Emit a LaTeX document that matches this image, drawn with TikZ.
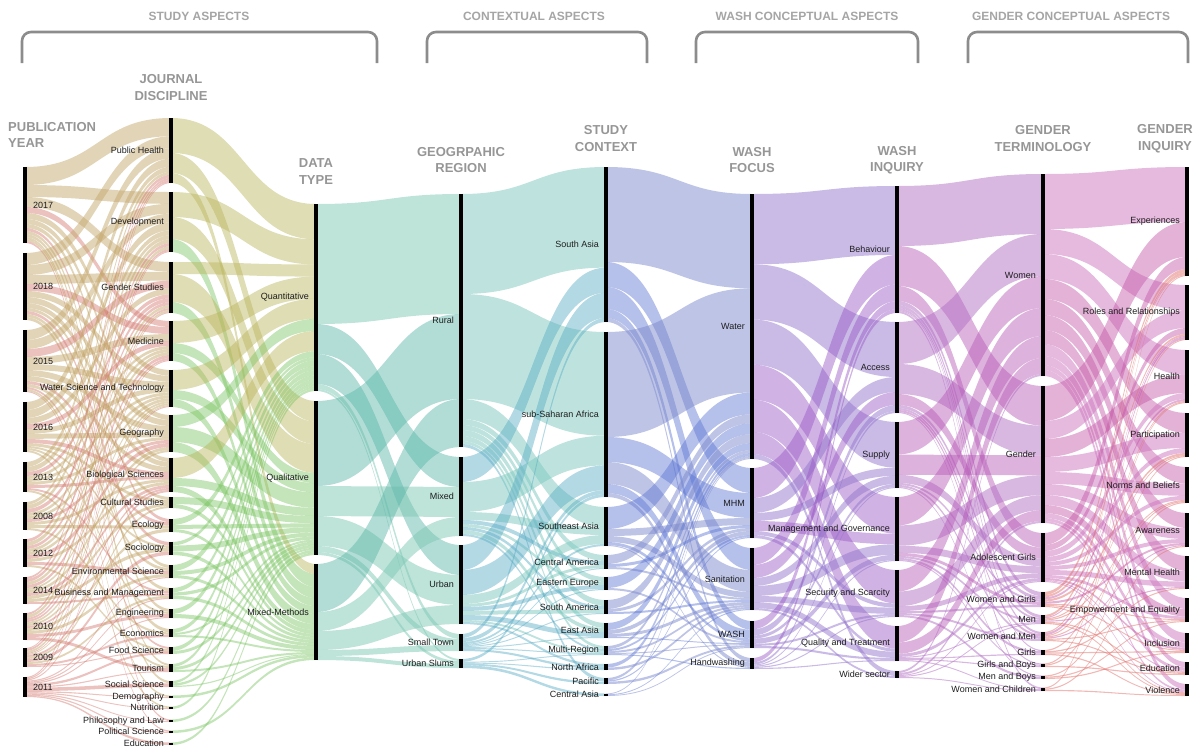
\documentclass[tikz,border=0pt]{standalone}
\usepackage{fontspec}
\setmainfont{Liberation Sans}

% ---------- colours ----------
\definecolor{labelink}{RGB}{30,30,30}
\definecolor{headgray}{RGB}{150,150,150}
\definecolor{grouphead}{RGB}{165,165,165}
\definecolor{bracketgray}{RGB}{140,140,140}
\definecolor{pAa}{RGB}{195,165,105}\definecolor{pAb}{RGB}{210,120,110}
\definecolor{pBa}{RGB}{185,180,90}\definecolor{pBb}{RGB}{120,195,95}
\definecolor{pCa}{RGB}{125,200,180}\definecolor{pCb}{RGB}{85,180,165}
\definecolor{pDa}{RGB}{125,200,190}\definecolor{pDb}{RGB}{85,170,195}
\definecolor{pEa}{RGB}{125,138,205}\definecolor{pEb}{RGB}{90,115,210}
\definecolor{pFa}{RGB}{148,118,205}\definecolor{pFb}{RGB}{150,85,195}
\definecolor{pGa}{RGB}{178,112,196}\definecolor{pGb}{RGB}{180,85,180}
\definecolor{pHa}{RGB}{205,118,190}\definecolor{pHb}{RGB}{195,85,165}\definecolor{pHc}{RGB}{225,115,110}

% ---------- segment storage ----------
\newcommand\storeseg[4]{%
  \expandafter\xdef\csname sg-#1-#2-t\endcsname{#3}%
  \expandafter\xdef\csname sg-#1-#2-b\endcsname{#4}}
\newcommand\segtop[2]{\csname sg-#1-#2-t\endcsname}
\newcommand\segbot[2]{\csname sg-#1-#2-b\endcsname}
\newcommand\loadaxis[2]{%
  \foreach \segT/\segB/\segL [count=\nn] in #2 {\storeseg{#1}{\nn}{\segT}{\segB}}}

% ---------- bars and labels of one axis ----------
\newcommand\drawaxis[5]{% list, bar x, label x, label anchor, node prefix
  \foreach \segT/\segB/\segL [count=\nn] in #1 {%
    \pgfmathsetmacro\ym{(\segT+\segB)/2}%
    \fill[bar] (#2-2.4,\segT) rectangle (#2+2.4,\segB);
    \node[seglabel, anchor=#4] (#5\nn) at (#3,\ym) {\segL};
  }}

% ---------- alluvial bands between two axes ----------
\newcommand\drawflows[6]{% left axis, right axis, left x, right x, style prefix, flow list
  \foreach \qi/\qj/\qw/\qc in #6 {%
    \expandafter\xdef\csname sumL-\qi\endcsname{0}%
    \expandafter\xdef\csname sumR-\qj\endcsname{0}%
    \expandafter\xdef\csname posL-\qi\endcsname{\segtop{#1}{\qi}}%
    \expandafter\xdef\csname posR-\qj\endcsname{\segtop{#2}{\qj}}%
  }%
  \foreach \qi/\qj/\qw/\qc in #6 {%
    \edef\Ls{\csname sumL-\qi\endcsname}\edef\Rs{\csname sumR-\qj\endcsname}%
    \pgfmathsetmacro\tmp{\Ls+\qw}%
    \expandafter\xdef\csname sumL-\qi\endcsname{\tmp}%
    \pgfmathsetmacro\tmp{\Rs+\qw}%
    \expandafter\xdef\csname sumR-\qj\endcsname{\tmp}%
  }%
  \foreach \qi/\qj/\qw/\qc in #6 {%
    \edef\Lt{\segtop{#1}{\qi}}\edef\Lb{\segbot{#1}{\qi}}%
    \edef\Rt{\segtop{#2}{\qj}}\edef\Rb{\segbot{#2}{\qj}}%
    \edef\Ls{\csname sumL-\qi\endcsname}\edef\Rs{\csname sumR-\qj\endcsname}%
    \edef\Ya{\csname posL-\qi\endcsname}\edef\Yc{\csname posR-\qj\endcsname}%
    \pgfmathsetmacro\Yb{\Ya+(\qw/\Ls)*(\Lb-\Lt)}%
    \pgfmathsetmacro\Yd{\Yc+(\qw/\Rs)*(\Rb-\Rt)}%
    \expandafter\xdef\csname posL-\qi\endcsname{\Yb}%
    \expandafter\xdef\csname posR-\qj\endcsname{\Yd}%
    \pgfmathsetmacro\Xm{(#3+#4)/2}%
    \edef\flowcmd{\noexpand\fill[#5\qc] (#3,\Ya) .. controls (\Xm,\Ya) and (\Xm,\Yc) .. (#4,\Yc)
      -- (#4,\Yd) .. controls (\Xm,\Yd) and (\Xm,\Yb) .. (#3,\Yb) -- cycle;}%
    \flowcmd
  }}

% ---------- axes: top/bottom/label ----------
\def\axA{167/243/2017, 253/320/2018, 330/392/2015, 402/452/2016, 462/492/2013, 502/530/2008, 539/567/2012, 577/604/2014, 613/640/2010, 648/667/2009, 677/697/2011}
\def\axB{118/183/Public Health, 192/252/Development, 262/313/Gender Studies, 321/361/Medicine, 370/407/Water Science and Technology, 415/452/Geography, 458/492/Biological Sciences, 497/508/Cultural Studies, 519/532/Ecology, 542/555/Sociology, 565/578/Environmental Science, 588/599/Business and Management, 609/618/Engineering, 629/637/Economics, 647/654/Food Science, 664/672/Tourism, 681/687/Social Science, 695.5/698/Demography, 706.5/709/Nutrition, 719.5/722/Philosophy and Law, 730.5/733/Political Science, 742.5/745/Education}
\def\axC{204/391/Quantitative, 401/555/Qualitative, 564/660/Mixed-Methods}
\def\axD{194/447/Rural, 457/536/Mixed, 545/624/Urban, 634/651/Small Town, 659/668/Urban Slums}
\def\axE{167/322/South Asia, 332/497/sub-Saharan Africa, 507/546/Southeast Asia, 555/569/Central America, 577/590/Eastern Europe, 600/614/South America, 623/638/East Asia, 646/655/Multi-Region, 664/670/North Africa, 678/684/Pacific, 693.5/696/Central Asia}
\def\axF{194/459/Water, 468/538/MHM, 548/610/Sanitation, 621/648/WASH, 658/669/Handwashing}
\def\axG{186/313/Behaviour, 322/413/Access, 422/488/Supply, 497/561/Management and Governance, 570/617/Security and Scarcity, 626/661/Quality and Treatment, 671/678/Wider sector}
\def\axH{174/376/Women, 386/523/Gender, 533/582/Adolescent Girls, 592/607/Women and Girls, 615/624/Men, 632/641/Women and Men, 650/655/Girls, 663.5/667/Girls and Boys, 675.5/679/Men and Boys, 687.5/691/Women and Children}
\def\axI{167/276/Experiences, 285/340/Roles and Relationships, 350/403/Health, 413/457/Participation, 467/503/Norms and Beliefs, 513/547/Awareness, 556/589/Mental Health, 598/622/Empowerment and Equality, 633/653/Inclusion, 662/675/Education, 684/696/Violence}

% ---------- flows: left/right/weight/style ----------
\def\flAB{1/1/18/0, 1/2/12/0, 1/3/10/0, 1/4/6/1, 1/5/6/0, 1/6/5/0, 1/7/4/0, 1/9/3/1, 1/11/3/0, 1/13/3/0, 1/16/2/0, 1/17/2/0, 1/20/2/1,
2/1/12/0, 2/2/10/0, 2/3/9/0, 2/4/7/1, 2/5/6/0, 2/6/6/0, 2/7/5/0, 2/8/3/0, 2/10/3/1, 2/12/3/0, 2/14/3/0,
3/1/10/0, 3/2/9/0, 3/3/8/1, 3/4/7/0, 3/5/6/0, 3/6/6/0, 3/7/5/0, 3/9/3/1, 3/11/3/0, 3/15/2/1, 3/18/2/0, 3/21/1/1,
4/1/8/0, 4/2/8/0, 4/3/6/0, 4/4/5/1, 4/5/5/0, 4/6/5/0, 4/7/4/1, 4/8/3/0, 4/10/2/0, 4/13/2/0, 4/19/2/0,
5/1/5/0, 5/2/5/0, 5/3/4/1, 5/4/3/0, 5/5/3/0, 5/6/3/0, 5/7/3/1, 5/12/2/1, 5/16/2/0,
6/1/3/0, 6/2/4/0, 6/3/4/1, 6/4/3/0, 6/5/3/0, 6/6/3/1, 6/7/3/0, 6/9/3/0, 6/14/2/0,
7/1/3/1, 7/2/4/0, 7/3/3/1, 7/4/3/0, 7/5/3/0, 7/6/4/1, 7/7/3/0, 7/11/3/1, 7/15/2/0,
8/1/2/1, 8/2/3/1, 8/3/3/0, 8/4/3/1, 8/5/2/0, 8/6/3/0, 8/7/3/1, 8/8/3/0, 8/10/3/0, 8/12/2/1,
9/1/2/1, 9/2/3/0, 9/3/2/1, 9/4/2/1, 9/5/2/0, 9/6/2/0, 9/7/2/1, 9/9/3/0, 9/11/3/0, 9/13/3/1, 9/16/3/1,
10/1/1/1, 10/2/2/1, 10/3/2/0, 10/4/1/1, 10/5/1/0, 10/7/2/1, 10/8/2/0, 10/10/3/1, 10/12/2/0, 10/14/2/1, 10/15/1/1,
11/2/1/1, 11/3/1/1, 11/5/1/1, 11/11/1/1, 11/12/1/1, 11/13/1/1, 11/15/2/1, 11/16/1/1, 11/17/3/1, 11/18/1/1, 11/19/1/1, 11/20/1/1, 11/21/1/1, 11/22/1/1}
\def\flBC{1/1/35/0, 1/2/20/0, 1/3/10/0,
2/1/25/0, 2/2/22/0, 2/3/13/1,
3/1/12/0, 3/2/28/0, 3/3/11/1,
4/1/22/0, 4/2/10/1, 4/3/8/1,
5/1/20/0, 5/2/9/1, 5/3/8/1,
6/1/12/1, 6/2/15/1, 6/3/10/1,
7/1/20/0, 7/2/8/1, 7/3/6/1,
8/2/7/1, 8/3/4/1,
9/1/6/1, 9/2/4/1, 9/3/3/1,
10/1/3/1, 10/2/5/1, 10/3/3/1,
11/1/6/1, 11/2/4/1, 11/3/3/1,
12/1/4/1, 12/2/3/1, 12/3/3/1,
13/1/5/1, 13/3/4/1,
14/1/4/1, 14/2/2/1, 14/3/2/1,
15/1/4/1, 15/2/3/1,
16/1/3/1, 16/2/3/1, 16/3/2/1,
17/1/2/1, 17/2/2/1, 17/3/1/1,
18/3/2.5/1, 19/1/2.5/1, 20/2/2.5/1, 21/3/2.5/1, 22/2/2.5/1}
\def\flCD{1/1/120/0, 1/2/30/1, 1/3/30/1, 1/4/5/0, 1/5/2/0,
2/1/85/1, 2/2/30/0, 2/3/30/0, 2/4/6/0, 2/5/3/0,
3/1/48/1, 3/2/19/0, 3/3/19/0, 3/4/6/0, 3/5/4/0}
\def\flDE{1/1/100/0, 1/2/105/0, 1/3/20/0, 1/4/6/0, 1/5/5/0, 1/6/6/0, 1/7/5/0, 1/8/3/0, 1/10/3/1,
2/1/25/1, 2/2/30/0, 2/3/8/0, 2/4/4/1, 2/5/3/0, 2/6/3/1, 2/7/4/0, 2/8/2/1,
3/1/25/1, 3/2/25/1, 3/3/9/0, 3/4/3/0, 3/5/4/1, 3/6/4/0, 3/7/5/1, 3/8/2/0, 3/9/2/1,
4/1/4/1, 4/2/4/1, 4/3/2/1, 4/4/1/1, 4/5/1/1, 4/6/1/1, 4/7/1/1, 4/8/1/1, 4/9/2/1,
5/2/3/1, 5/8/1/1, 5/9/1/1, 5/10/2/1, 5/11/3/1}
\def\flEF{1/1/95/0, 1/2/25/1, 1/3/22/1, 1/4/9/1, 1/5/4/0,
2/1/105/0, 2/2/25/1, 2/3/22/0, 2/4/9/1, 2/5/4/0,
3/1/22/1, 3/2/7/0, 3/3/6/0, 3/4/3/1, 3/5/1/0,
4/1/9/0, 4/2/3/1, 4/3/2/0,
5/1/11/1, 5/4/2/0,
6/1/9/0, 6/2/3/0, 6/3/2/1,
7/1/7/1, 7/2/4/0, 7/3/3/0, 7/4/1/1,
8/1/3/0, 8/2/2/1, 8/3/2/0, 8/4/1/0, 8/5/1/1,
9/1/3/1, 9/3/2/0,
10/1/2/0, 10/2/1/1, 10/4/2/0,
11/1/1/0, 11/3/1/1, 11/4/1/0}
\def\flFG{1/1/70/0, 1/2/55/0, 1/3/45/0, 1/4/35/1, 1/5/32/1, 1/6/22/1, 1/7/5/0,
2/1/30/1, 2/2/15/0, 2/3/8/0, 2/4/10/1, 2/5/4/0, 2/6/3/0,
3/1/17/1, 3/2/13/1, 3/3/8/0, 3/4/10/0, 3/5/6/0, 3/6/6/0, 3/7/2/0,
4/1/8/1, 4/2/6/0, 4/3/3/0, 4/4/5/0, 4/5/2/0, 4/6/2/0,
5/1/4/1, 5/2/2/0, 5/3/1/0, 5/4/1/0, 5/5/1/0, 5/6/1/0}
\def\flGH{1/1/60/0, 1/2/40/1, 1/3/15/1, 1/4/4/0, 1/5/3/0, 1/6/2/0, 1/7/1/0, 1/10/2/0,
2/1/42/0, 2/2/30/0, 2/3/11/1, 2/4/3/0, 2/5/2/0, 2/6/2/1, 2/8/1/0,
3/1/32/1, 3/2/20/1, 3/3/8/0, 3/4/2/0, 3/6/2/0, 3/9/1/0,
4/1/28/1, 4/2/20/0, 4/3/7/0, 4/4/3/1, 4/5/2/0, 4/7/2/0, 4/8/1/0,
5/1/22/1, 5/2/15/0, 5/3/5/0, 5/4/2/0, 5/6/2/0, 5/9/2/0,
6/1/16/1, 6/2/11/1, 6/3/3/0, 6/5/1/0, 6/7/1/0, 6/8/1/0, 6/10/1/0,
7/1/2/0, 7/2/2/0, 7/3/1/0, 7/5/1/0, 7/10/1/0}
\def\flHI{1/1/55/0, 1/2/25/0, 1/3/25/0, 1/4/20/1, 1/5/16/1, 1/6/15/1, 1/7/14/1, 1/8/12/0, 1/9/9/0, 1/10/5/0, 1/11/6/0,
2/1/35/1, 2/2/18/0, 2/3/18/1, 2/4/15/0, 2/5/12/0, 2/6/11/0, 2/7/10/0, 2/8/8/1, 2/9/5/0, 2/10/3/0, 2/11/2/0,
3/1/12/1, 3/2/6/1, 3/3/6/0, 3/4/5/0, 3/5/4/0, 3/6/4/0, 3/7/5/0, 3/8/3/0, 3/9/2/1, 3/10/1/0, 3/11/1/0,
4/1/3/2, 4/2/2/2, 4/3/2/1, 4/4/2/2, 4/6/2/1, 4/8/1/2, 4/9/1/2, 4/11/1/2,
5/1/2/2, 5/2/1/1, 5/4/1/2, 5/5/1/2, 5/7/1/1, 5/10/1/2, 5/11/1/2,
6/1/1/2, 6/2/2/1, 6/3/1/2, 6/5/1/2, 6/6/1/1, 6/8/1/2, 6/10/1/2,
7/3/1/2, 7/7/1/2, 7/9/1/2, 7/11/1/2,
8/2/1/2, 8/4/1/2, 8/10/1/2,
9/5/1/2, 9/8/1/2, 9/9/1/2,
10/1/1/2, 10/6/1/2, 10/11/1/2}

\begin{document}
\begin{tikzpicture}[x=1pt, y=-1pt,
  bar/.style={fill=black},
  seglabel/.style={font=\fontsize{9}{10}\selectfont, text=labelink, inner sep=0pt},
  axhead/.style={font=\bfseries\fontsize{13}{16.5}\selectfont, text=headgray, align=center, inner sep=0pt},
  grouplabel/.style={font=\bfseries\fontsize{12}{14}\selectfont, text=grouphead, inner sep=0pt},
  bracket/.style={draw=bracketgray, line width=2.6pt, rounded corners=9pt},
  pa0/.style={fill=pAa, fill opacity=0.48}, pa1/.style={fill=pAb, fill opacity=0.45},
  pb0/.style={fill=pBa, fill opacity=0.46}, pb1/.style={fill=pBb, fill opacity=0.44},
  pc0/.style={fill=pCa, fill opacity=0.5}, pc1/.style={fill=pCb, fill opacity=0.45},
  pd0/.style={fill=pDa, fill opacity=0.5}, pd1/.style={fill=pDb, fill opacity=0.45},
  pe0/.style={fill=pEa, fill opacity=0.5}, pe1/.style={fill=pEb, fill opacity=0.45},
  pf0/.style={fill=pFa, fill opacity=0.5}, pf1/.style={fill=pFb, fill opacity=0.45},
  pg0/.style={fill=pGa, fill opacity=0.5}, pg1/.style={fill=pGb, fill opacity=0.45},
  ph0/.style={fill=pHa, fill opacity=0.5}, ph1/.style={fill=pHb, fill opacity=0.45}, ph2/.style={fill=pHc, fill opacity=0.5}]
\useasboundingbox (0,0) rectangle (1193,750);

\loadaxis{A}{\axA}\loadaxis{B}{\axB}\loadaxis{C}{\axC}
\loadaxis{D}{\axD}\loadaxis{E}{\axE}\loadaxis{F}{\axF}
\loadaxis{G}{\axG}\loadaxis{H}{\axH}\loadaxis{I}{\axI}

% bands
\drawflows{A}{B}{25}{171}{pa}{\flAB}
\drawflows{B}{C}{171}{316}{pb}{\flBC}
\drawflows{C}{D}{316}{461}{pc}{\flCD}
\drawflows{D}{E}{461}{606}{pd}{\flDE}
\drawflows{E}{F}{606}{752}{pe}{\flEF}
\drawflows{F}{G}{752}{897}{pf}{\flFG}
\drawflows{G}{H}{897}{1043}{pg}{\flGH}
\drawflows{H}{I}{1043}{1187}{ph}{\flHI}

% category bars and their labels
\drawaxis{\axA}{25}{33}{west}{yr}
\drawaxis{\axB}{171}{164}{east}{jd}
\drawaxis{\axC}{316}{309}{east}{dt}
\drawaxis{\axD}{461}{454}{east}{gr}
\drawaxis{\axE}{606}{599}{east}{sc}
\drawaxis{\axF}{752}{745}{east}{wf}
\drawaxis{\axG}{897}{890}{east}{wi}
\drawaxis{\axH}{1043}{1036}{east}{gt}
\drawaxis{\axI}{1187}{1180}{east}{gi}

% axis headings
\node[axhead, align=left, anchor=west] (hYear) at (8,135) {PUBLICATION\\YEAR};
\node[axhead] (hJournal) at (171,87.5) {JOURNAL\\DISCIPLINE};
\node[axhead] (hData) at (316,171.5) {DATA\\TYPE};
\node[axhead] (hRegion) at (461,160) {GEOGRPAHIC\\REGION};
\node[axhead] (hContext) at (606,138.5) {STUDY\\CONTEXT};
\node[axhead] (hFocus) at (752,160) {WASH\\FOCUS};
\node[axhead] (hInquiry) at (897,160) {WASH\\INQUIRY};
\node[axhead] (hTerm) at (1043,138.5) {GENDER\\TERMINOLOGY};
\node[axhead] (hGInq) at (1165,138.5) {GENDER\\INQUIRY};

% group headings with brackets
\node[grouplabel] (gStudy) at (199,16) {STUDY ASPECTS};
\node[grouplabel] (gContext) at (534,16) {CONTEXTUAL ASPECTS};
\node[grouplabel] (gWash) at (807,16) {WASH CONCEPTUAL ASPECTS};
\node[grouplabel] (gGender) at (1071,16) {GENDER CONCEPTUAL ASPECTS};
\draw[bracket] (22,63) -- (22,32) -- (377,32) -- (377,63);
\draw[bracket] (427,63) -- (427,32) -- (647,32) -- (647,63);
\draw[bracket] (696,63) -- (696,32) -- (918,32) -- (918,63);
\draw[bracket] (968,63) -- (968,32) -- (1188,32) -- (1188,63);
\end{tikzpicture}
\end{document}
